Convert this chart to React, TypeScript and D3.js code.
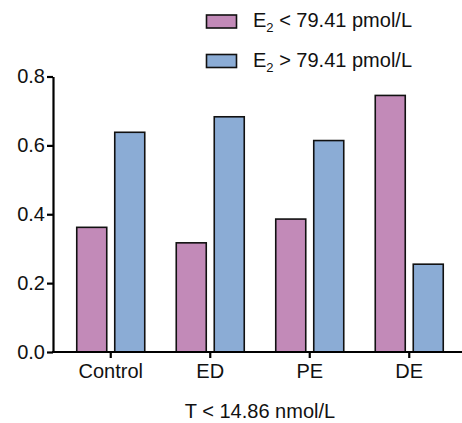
import React, { useRef, useEffect } from 'react';
import * as d3 from 'd3';

const categories = ['Control', 'ED', 'PE', 'DE'];
const seriesLow = [0.362, 0.317, 0.386, 0.745];
const seriesHigh = [0.638, 0.683, 0.614, 0.255];
const seriesNames = ['low', 'high'];
const yTicks = [0, 0.2, 0.4, 0.6, 0.8];

const App = () => {
  const chartRef = useRef<SVGSVGElement>(null);

  useEffect(() => {
    const width = 462;
    const height = 423;
    const font = '"Liberation Sans", Arial, sans-serif';
    const colors = ['#C28AB8', '#8BACD5'];

    const svg = d3.select(chartRef.current);
    svg.selectAll('*').remove();
    svg.attr('width', width).attr('height', height);

    const x0 = d3.scaleBand().domain(categories).range([61, 459]).padding(0);
    const x1 = d3.scaleBand().domain(seriesNames).range([0, 68]).paddingInner(8 / 38);
    const y = d3.scaleLinear().domain([0, 0.8]).range([352, 76.5]);

    const rows = categories.map((c, i) => ({ cat: c, values: [seriesLow[i], seriesHigh[i]] }));

    const g = svg.append('g');
    g.selectAll('g.cat')
      .data(rows)
      .join('g')
      .attr('class', 'cat')
      .attr('transform', d => `translate(${x0(d.cat)! + x0.bandwidth() / 2 - 34},0)`)
      .selectAll('rect')
      .data(d => d.values.map((v, j) => ({ key: seriesNames[j], v, j })))
      .join('rect')
      .attr('x', d => x1(d.key)!)
      .attr('width', x1.bandwidth())
      .attr('y', d => y(d.v))
      .attr('height', d => y(0) - y(d.v))
      .attr('fill', d => colors[d.j])
      .attr('stroke', '#111')
      .attr('stroke-width', 1.6);

    // y axis
    const yAxis = svg.append('g')
      .attr('transform', 'translate(53,0)')
      .call(d3.axisLeft(y).tickValues(yTicks).tickFormat(d3.format('.1f')).tickSize(6).tickSizeOuter(0));
    yAxis.select('.domain').attr('stroke', '#000').attr('stroke-width', 2.2);
    yAxis.selectAll('.tick line').attr('stroke', '#000').attr('stroke-width', 2.2);
    yAxis.selectAll('.tick text')
      .attr('font-family', font)
      .attr('font-size', 20)
      .attr('fill', '#111')
      .attr('x', -8);

    // x axis
    const xAxis = svg.append('g')
      .attr('transform', `translate(0,${y(0)})`)
      .call(d3.axisBottom(x0).tickSize(6).tickSizeOuter(0));
    xAxis.select('.domain').attr('d', `M52,0H462`).attr('stroke', '#000').attr('stroke-width', 2.2);
    xAxis.selectAll('.tick line').attr('stroke', '#000').attr('stroke-width', 2.2);
    xAxis.selectAll('.tick text')
      .attr('font-family', font)
      .attr('font-size', 20)
      .attr('fill', '#111')
      .attr('y', 12);

    svg.append('text')
      .attr('x', 260)
      .attr('y', 418)
      .attr('text-anchor', 'middle')
      .attr('font-family', font)
      .attr('font-size', 20)
      .attr('fill', '#111')
      .text('T < 14.86 nmol/L');

    // legend
    const legend = [
      { sym: '<', color: colors[0], yPos: 15 },
      { sym: '>', color: colors[1], yPos: 54.5 },
    ];
    legend.forEach(l => {
      svg.append('rect')
        .attr('x', 206.5)
        .attr('y', l.yPos)
        .attr('width', 30)
        .attr('height', 13)
        .attr('fill', l.color)
        .attr('stroke', '#111')
        .attr('stroke-width', 1.6);
      const t = svg.append('text')
        .attr('x', 253)
        .attr('y', l.yPos + 12)
        .attr('font-family', font)
        .attr('font-size', 20)
        .attr('fill', '#111');
      t.append('tspan').text('E');
      t.append('tspan').attr('font-size', 13).attr('dy', 5).text('2');
      t.append('tspan').attr('dy', -5).text(` ${l.sym} 79.41 pmol/L`);
    });
  }, []);

  return (
    <div style={{ position: 'absolute', left: 0, top: 0 }}>
      <svg ref={chartRef}></svg>
    </div>
  );
};

export default App;
